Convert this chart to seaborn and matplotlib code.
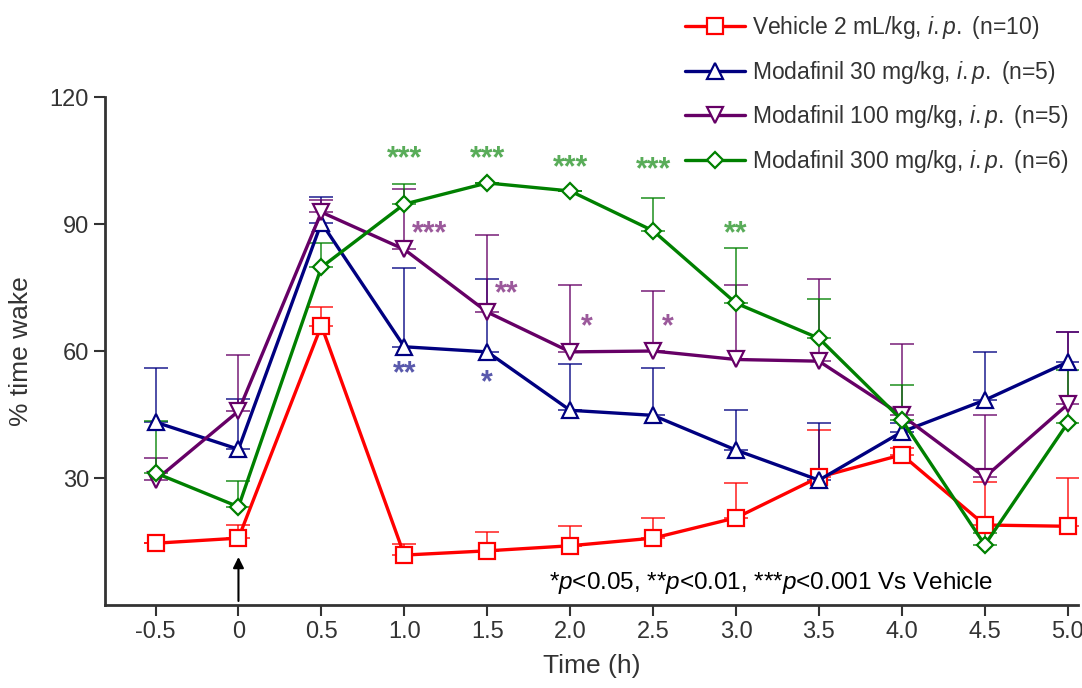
import numpy as np
import pandas as pd
import matplotlib
matplotlib.use("Agg")
import matplotlib.pyplot as plt
import seaborn as sns

# time points (h) and group means / upper SEM tops
time = [-0.5, 0, 0.5, 1.0, 1.5, 2.0, 2.5, 3.0, 3.5, 4.0, 4.5, 5.0]
tick_labels = ["-0.5", "0", "0.5", "1.0", "1.5", "2.0", "2.5", "3.0", "3.5", "4.0", "4.5", "5.0"]

vehicle = [14.6, 15.8, 66.0, 11.8, 12.8, 14.0, 15.8, 20.6, 30.2, 35.5, 18.9, 18.6]
vehicle_top = [14.6, 18.9, 70.4, 14.4, 17.2, 18.6, 20.6, 28.8, 41.3, 37.0, 29.0, 30.0]

moda30 = [43.2, 36.8, 90.3, 61.0, 59.8, 46.0, 44.8, 36.6, 29.5, 40.9, 48.4, 57.4]
moda30_top = [56.0, 48.6, 96.4, 79.6, 77.0, 57.0, 56.0, 46.0, 43.0, 43.0, 59.8, 64.5]

moda100 = [29.5, 45.8, 92.8, 84.0, 69.2, 59.8, 60.0, 58.0, 57.6, 44.8, 30.2, 47.4]
moda100_top = [34.7, 59.0, 95.7, 98.3, 87.4, 75.6, 74.2, 75.6, 77.0, 61.7, 44.9, 64.5]

moda300 = [31.2, 23.2, 79.8, 94.7, 99.7, 97.8, 88.4, 71.3, 63.0, 43.7, 14.2, 43.0]
moda300_top = [43.5, 29.3, 85.5, 99.4, 99.7, 97.8, 96.1, 84.3, 72.3, 52.0, 17.0, 55.5]

labels = [
    r"Vehicle 2 mL/kg, $\it{i.p.}$ (n=10)",
    r"Modafinil 30 mg/kg, $\it{i.p.}$ (n=5)",
    r"Modafinil 100 mg/kg, $\it{i.p.}$ (n=5)",
    r"Modafinil 300 mg/kg, $\it{i.p.}$ (n=6)",
]
colors = ["#ff0000", "#000080", "#660066", "#008000"]
markers = ["s", "^", "v", "D"]
sizes = [11, 11, 11, 8.5]

# significance stars: x, y, text, group index
star_x = [1.0, 1.5, 2.0, 2.5, 3.0, 1.15, 1.62, 2.1, 2.59, 1.0, 1.5]
star_y = [105.3, 105.3, 103.2, 102.7, 87.6, 87.6, 73.5, 65.5, 65.5, 54.5, 52.5]
star_txt = ["***", "***", "***", "***", "**", "***", "**", "*", "*", "**", "*"]
star_grp = [3, 3, 3, 3, 3, 2, 2, 2, 2, 1, 1]

sns.set_theme(style="ticks")
plt.rcParams["font.family"] = ["Liberation Sans", "DejaVu Sans"]
plt.rcParams["mathtext.fontset"] = "custom"
plt.rcParams["mathtext.rm"] = "Liberation Sans"
plt.rcParams["mathtext.it"] = "Liberation Sans:italic"

fig = plt.figure(figsize=(10.82, 6.88), dpi=100)
ax = fig.add_axes([0.097, 0.1206, 0.899, 0.7384])

means = [vehicle, moda30, moda100, moda300]
tops = [vehicle_top, moda30_top, moda100_top, moda300_top]

for i in range(4):
    m = np.array(means[i])
    t = np.array(tops[i])
    upper = np.clip(t - m, 0, None)
    ax.errorbar(time, m, yerr=[np.zeros_like(m), upper], fmt="none",
                ecolor=colors[i], elinewidth=1.3, capsize=8.5, capthick=1.3,
                alpha=0.75, zorder=2 + i)

for i in range(4):
    df = pd.DataFrame({"time": time, "val": means[i]})
    sns.lineplot(data=df, x="time", y="val", ax=ax, color=colors[i],
                 marker=markers[i], markersize=sizes[i], markerfacecolor="white",
                 markeredgecolor=colors[i], markeredgewidth=1.6, linewidth=2.4,
                 label=labels[i], zorder=10 + i)

for x, y, s, g in zip(star_x, star_y, star_txt, star_grp):
    ax.text(x, y, s, color=colors[g], alpha=0.65, fontsize=22, fontweight="bold",
            ha="center", va="center")

# dosing arrow
ax.annotate("", xy=(0, 12), xytext=(0, 0.3),
            arrowprops=dict(arrowstyle="-|>", color="black", lw=1.5, mutation_scale=16))

ax.text(4.55, 5.2, r"*$\it{p}$<0.05, **$\it{p}$<0.01, ***$\it{p}$<0.001 Vs Vehicle",
        ha="right", va="center", fontsize=17.5, color="black")
ax.set_xlim(-0.805, 5.06)
ax.set_ylim(0, 120)
ax.set_xticks(time)
ax.set_xticklabels(tick_labels)
ax.set_yticks([30, 60, 90, 120])
ax.tick_params(axis="both", labelsize=17, labelcolor="#333333", color="#333333",
               length=8, width=1.5, direction="out")
ax.set_xlabel("Time (h)", fontsize=19, color="#333333", labelpad=8)
ax.set_ylabel("% time wake", fontsize=19, color="#333333", labelpad=12)
for side in ["left", "bottom"]:
    ax.spines[side].set_linewidth(2)
    ax.spines[side].set_color("#333333")
sns.despine(ax=ax)

ax.legend(loc="upper right", bbox_to_anchor=(1.0, 1.0), bbox_transform=fig.transFigure,
          frameon=False, fontsize=16.5, labelspacing=0.78, handlelength=2.6,
          handletextpad=0.3, labelcolor="#333333", borderaxespad=0.2)

fig.savefig("out.png", dpi=100)
